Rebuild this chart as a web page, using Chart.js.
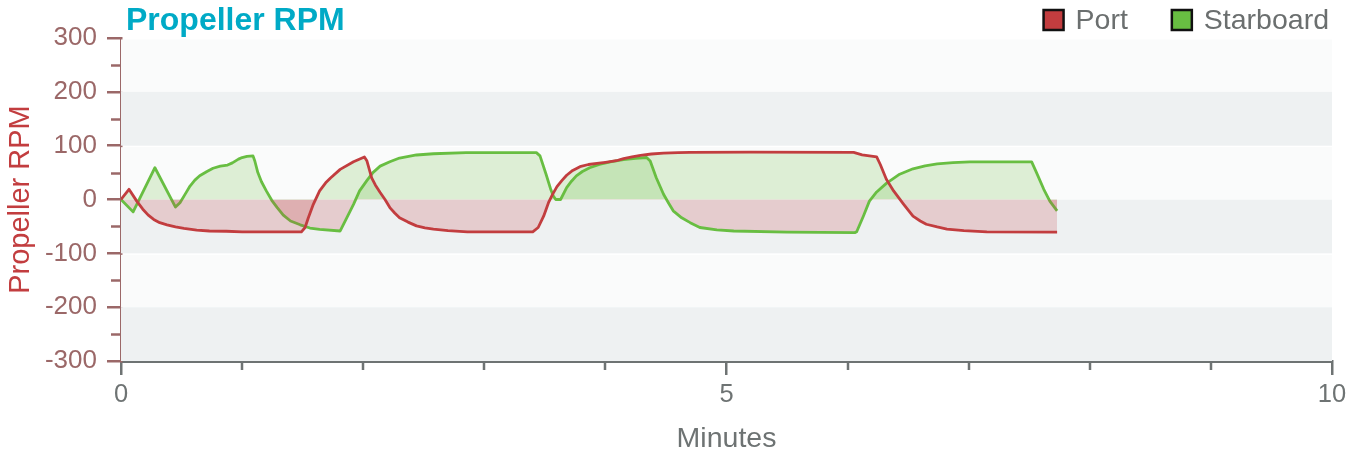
<!DOCTYPE html>
<html>
<head>
<meta charset="utf-8">
<title>Propeller RPM</title>
<script src="https://cdn.jsdelivr.net/npm/chart.js@4.4.1/dist/chart.umd.min.js"></script>
<style>
  html, body { margin: 0; padding: 0; background: #ffffff; }
  #rpm { display: block; }
</style>
</head>
<body>
<canvas id="rpm" width="1359" height="456"></canvas>
<script>
const chartTitle = 'Propeller RPM';
const xTitle = 'Minutes';
const yTitle = 'Propeller RPM';

// values (minutes, rpm)
const portMinutes = [0, 0.066, 0.13, 0.18, 0.225, 0.27, 0.32, 0.38, 0.45, 0.52, 0.625, 0.73, 0.87, 1.0, 1.49,
  1.52, 1.547, 1.588, 1.64, 1.69, 1.73, 1.81, 1.92, 2.01,
  2.03, 2.07, 2.10, 2.14, 2.18, 2.22, 2.26, 2.30, 2.37, 2.44, 2.51, 2.58, 2.70, 2.86, 3.40,
  3.445, 3.49, 3.53, 3.565, 3.60, 3.64, 3.68, 3.73, 3.79, 3.86, 3.93, 4.00, 4.09, 4.15, 4.22, 4.29, 4.38, 4.48, 4.60, 4.70, 5.2, 6.05,
  6.12, 6.24, 6.27, 6.32, 6.38, 6.46, 6.54, 6.60, 6.65, 6.74, 6.82, 6.96, 7.15, 7.73];
const portRpm = [0, 19, -3, -18, -29, -37, -43, -47, -51, -53.5, -56.7, -58.5, -59, -60, -60,
  -52, -34, -9, 16, 31, 40, 56, 70, 79,
  72, 40, 27, 13, 0, -15, -25, -34, -42, -49, -52.5, -55, -58, -60, -60,
  -52, -31, -6, 10, 24, 35, 45, 54, 61, 65, 67, 69, 72, 76, 79, 82, 84.5, 86, 87, 87.5, 88, 87.5,
  83, 79, 65, 37.5, 16, -8, -31, -40, -46, -51, -55, -58, -60, -60.5];

const starboardMinutes = [0, 0.10, 0.28, 0.45,
  0.487, 0.53, 0.57, 0.61, 0.65, 0.71, 0.76, 0.82, 0.88, 0.92, 0.97, 1.00, 1.04, 1.09,
  1.105, 1.13, 1.16, 1.20, 1.245, 1.29, 1.34, 1.40, 1.48, 1.56, 1.64, 1.81,
  1.86, 1.92, 1.97, 2.03, 2.08, 2.14, 2.22, 2.30, 2.44, 2.58, 2.85, 3.43,
  3.46, 3.51, 3.55, 3.57, 3.59, 3.63, 3.68, 3.72, 3.76, 3.81, 3.87, 3.95, 4.04, 4.15, 4.25, 4.34,
  4.37, 4.42, 4.48, 4.52, 4.56, 4.63, 4.70, 4.78, 4.92, 5.06, 5.5, 6.06,
  6.075, 6.13, 6.18, 6.24, 6.32, 6.43, 6.54, 6.64, 6.74, 6.87, 7.01, 7.52,
  7.56, 7.62, 7.67, 7.73];
const starboardRpm = [0, -23, 59, -14,
  -6, 10, 25, 36, 44, 52, 58, 62, 64, 68, 75, 78, 80, 81,
  71.5, 50, 33, 16, -1.5, -15, -29, -40, -47, -53, -55.5, -58.5,
  -36, -9, 16, 35, 50, 62, 70, 77, 82.7, 85, 87, 87,
  81, 47, 18, 6.5, 0, 0, 22, 34, 44, 52, 59, 65, 70, 74, 76.5, 78,
  71.5, 40.5, 9.7, -6, -21, -34, -43, -52, -56.5, -58.5, -60.5, -61.5,
  -60, -31, -3, 14, 30, 47, 57, 62.5, 66, 68.5, 70, 70,
  50, 19, -3, -21];

const yMajorTicks = [-300, -200, -100, 0, 100, 200, 300];
const yMinorTicks = [-250, -150, -50, 50, 150, 250];
const xLabelledTicks = [0, 5, 10];
const xMinorTicks = [1, 2, 3, 4, 6, 7, 8, 9];

const FONT = '"Liberation Sans", Arial, Helvetica, sans-serif';
const PORT_COLOR = '#c23d3f';
const STARBOARD_COLOR = '#68be42';
const Y_AXIS_COLOR = '#9b6868';
const X_AXIS_COLOR = '#6e7373';
const TEXT_GRAY = '#6b6f6f';

function toPoints (xs, ys) {
  return xs.map((x, i) => ({ x, y: ys[i] }));
}

// alternating horizontal bands behind the plot
const bandsPlugin = {
  id: 'bands',
  beforeDatasetsDraw (chart) {
    const { ctx, chartArea, scales } = chart;
    const y = scales.y;
    ctx.save();
    for (let i = 0; i < yMajorTicks.length - 1; i++) {
      const top = y.getPixelForValue(yMajorTicks[i + 1]);
      const bottom = y.getPixelForValue(yMajorTicks[i]);
      const dark = i % 2 === 0;
      ctx.fillStyle = dark ? '#eef1f2' : '#fafbfb';
      const inset = dark ? 0 : 1.5;
      ctx.fillRect(chartArea.left, top + inset, chartArea.right - chartArea.left, bottom - top - inset);
    }
    ctx.restore();
  }
};

// short minor ticks, title and legend
const decorPlugin = {
  id: 'decor',
  afterDraw (chart) {
    const { ctx, chartArea, scales } = chart;
    ctx.save();

    ctx.lineWidth = 2.5;
    ctx.strokeStyle = Y_AXIS_COLOR;
    yMinorTicks.forEach(v => {
      const py = Math.round(scales.y.getPixelForValue(v)) + 0.5;
      ctx.beginPath();
      ctx.moveTo(chartArea.left - 10, py);
      ctx.lineTo(chartArea.left, py);
      ctx.stroke();
    });

    ctx.lineWidth = 2.5;
    ctx.strokeStyle = X_AXIS_COLOR;
    xMinorTicks.forEach(v => {
      const px = Math.round(scales.x.getPixelForValue(v));
      ctx.beginPath();
      ctx.moveTo(px, chartArea.bottom);
      ctx.lineTo(px, chartArea.bottom + 9);
      ctx.stroke();
    });

    ctx.fillStyle = '#00aac6';
    ctx.font = 'bold 32px ' + FONT;
    ctx.textBaseline = 'alphabetic';
    ctx.textAlign = 'left';
    ctx.fillText(chartTitle, chartArea.left + 5, 30);

    ctx.font = '28.5px ' + FONT;
    ctx.textBaseline = 'middle';
    let right = 1329;
    const items = chart.data.datasets.slice().reverse();
    items.forEach(ds => {
      const w = ctx.measureText(ds.label).width;
      const textX = right - w;
      const boxX = textX - 12 - 20;
      ctx.fillStyle = ds.borderColor;
      ctx.fillRect(boxX, 10, 20, 20);
      ctx.lineWidth = 2.5;
      ctx.strokeStyle = '#111111';
      ctx.strokeRect(boxX, 10, 20, 20);
      ctx.fillStyle = TEXT_GRAY;
      ctx.fillText(ds.label, textX, 21);
      right = boxX - 44;
    });

    ctx.restore();
  }
};

const fillColors = {
  target: 'origin',
  above: 'rgba(104, 190, 66, 0.2)',
  below: 'rgba(194, 61, 63, 0.2)'
};

// eslint-disable-next-line no-undef
const rpmChart = new Chart('rpm', {
  type: 'line',
  data: {
    datasets: [
      { label: 'Port', data: toPoints(portMinutes, portRpm), borderColor: PORT_COLOR, backgroundColor: PORT_COLOR, borderWidth: 2.8, pointRadius: 0, fill: fillColors, tension: 0, borderJoinStyle: 'round' },
      { label: 'Starboard', data: toPoints(starboardMinutes, starboardRpm), borderColor: STARBOARD_COLOR, backgroundColor: STARBOARD_COLOR, borderWidth: 2.8, pointRadius: 0, fill: fillColors, tension: 0, borderJoinStyle: 'round' }
    ]
  },
  options: {
    responsive: false,
    animation: false,
    devicePixelRatio: 1,
    layout: { padding: { top: 38, right: 27, left: 0, bottom: 0 } },
    plugins: {
      legend: { display: false },
      title: { display: false },
      tooltip: { enabled: false }
    },
    scales: {
      x: {
        type: 'linear',
        min: 0,
        max: 10,
        afterFit (scale) { scale.height = 95; },
        border: { color: X_AXIS_COLOR, width: 3 },
        grid: {
          drawOnChartArea: false,
          tickLength: 14,
          lineWidth: 2.5,
          tickColor: ctx => (ctx.tick && xLabelledTicks.includes(ctx.tick.value)) ? X_AXIS_COLOR : 'rgba(0,0,0,0)'
        },
        ticks: {
          stepSize: 1,
          autoSkip: false,
          maxRotation: 0,
          padding: 5,
          color: X_AXIS_COLOR,
          font: { family: FONT, size: 25.5 },
          callback: value => xLabelledTicks.includes(value) ? value : ''
        },
        title: {
          display: true,
          text: xTitle,
          color: X_AXIS_COLOR,
          padding: { top: 4, bottom: 0 },
          font: { family: FONT, size: 28.5 }
        }
      },
      y: {
        min: -300,
        max: 300,
        afterFit (scale) { scale.width = 121; },
        border: { color: Y_AXIS_COLOR, width: 2.5 },
        grid: {
          drawOnChartArea: false,
          tickLength: 14,
          lineWidth: 2.5,
          tickColor: ctx => (ctx.tick && yMajorTicks.includes(ctx.tick.value)) ? Y_AXIS_COLOR : 'rgba(0,0,0,0)'
        },
        ticks: {
          stepSize: 50,
          padding: 10,
          color: Y_AXIS_COLOR,
          font: { family: FONT, size: 26 },
          callback: value => yMajorTicks.includes(value) ? value : ''
        },
        title: {
          display: true,
          text: yTitle,
          color: PORT_COLOR,
          font: { family: FONT, size: 29 }
        }
      }
    }
  },
  plugins: [bandsPlugin, decorPlugin]
});

rpmChart.update();
</script>
</body>
</html>
